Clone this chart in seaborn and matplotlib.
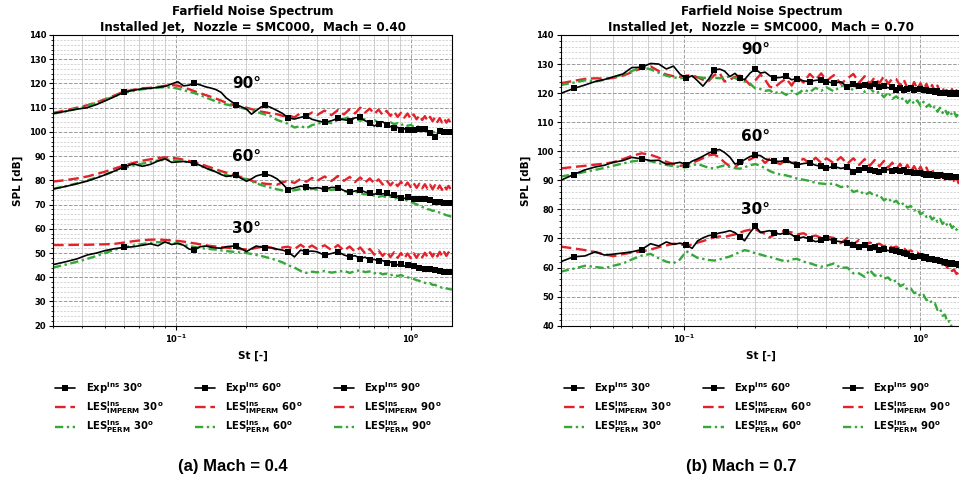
import numpy as np
import matplotlib
matplotlib.use("Agg")
import matplotlib.pyplot as plt
from matplotlib.ticker import MultipleLocator, NullFormatter, LogLocator
import seaborn as sns

# Strouhal number grid shared by all spectra
st = [0.030, 0.034, 0.038, 0.042, 0.046, 0.050, 0.055, 0.060,
      0.066, 0.072, 0.078, 0.084, 0.090, 0.096, 0.102, 0.108, 0.114, 0.120,
      0.127, 0.134, 0.141, 0.148, 0.156, 0.164, 0.172, 0.180,
      0.190, 0.200, 0.210, 0.220, 0.230, 0.240, 0.255, 0.270, 0.285, 0.300,
      0.320, 0.340, 0.360, 0.380, 0.400,
      0.43, 0.46, 0.49, 0.52, 0.55, 0.58, 0.61, 0.64, 0.67, 0.70, 0.73, 0.76,
      0.79, 0.82, 0.85, 0.88, 0.91, 0.94, 0.97, 1.00, 1.03, 1.06, 1.09, 1.12,
      1.15, 1.18, 1.21, 1.24, 1.27, 1.30, 1.33, 1.36, 1.39, 1.42, 1.45, 1.48, 1.51]

angles = ["30", "60", "90"]

# ---------------- Mach 0.4 ----------------
m04_exp_90 = [107.6, 108.5, 109.4, 110.0, 111.3, 112.8, 114.6, 116.3,
              117.2, 117.8, 118.0, 118.4, 118.8, 119.8, 120.7, 119.0, 119.3, 120.0,
              119.4, 118.6, 118.1, 117.5, 116.3, 114.0, 112.6, 111.2,
              110.4, 109.4, 107.3, 108.8, 110.2, 111.0, 110.0, 108.8, 107.6, 105.8,
              105.3, 106.0, 106.5, 105.2, 104.6,
              103.9, 104.6, 105.6, 105.0, 104.7, 105.8, 106.0, 104.6, 103.8, 102.4, 103.4, 104.2,
              103.0, 102.2, 101.6, 101.9, 100.8, 101.3, 100.6, 100.9, 100.7, 101.8, 101.2, 101.5,
              101.0, 100.2, 99.4, 98.6, 98.0, 99.2, 100.4, 99.6, 100.1, 99.3, 99.8, 99.6, 99.4]
m04_imp_90 = [107.8, 108.9, 110.0, 111.0, 112.2, 113.5, 115.1, 116.6,
              117.4, 118.0, 118.2, 118.6, 119.0, 119.3, 119.1, 118.3, 117.6, 116.8,
              116.0, 115.2, 114.5, 113.8, 112.9, 112.0, 111.3, 110.8,
              110.3, 110.0, 109.4, 108.9, 108.4, 108.1, 107.6, 107.3, 106.6, 106.9,
              106.0, 107.8, 106.6, 108.0, 107.0,
              108.8, 106.9, 109.0, 107.2, 109.4, 107.6, 110.0, 108.0, 109.6, 107.4, 109.2, 107.0,
              108.7, 106.6, 108.4, 106.2, 107.9, 105.9, 107.6, 105.5, 107.2, 105.2, 106.8, 104.9,
              106.5, 104.6, 106.2, 104.4, 106.0, 104.1, 105.7, 103.9, 105.4, 103.8, 105.1, 103.7, 104.2]
m04_perm_90 = [107.5, 108.5, 109.6, 110.8, 112.0, 113.2, 114.8, 116.1,
               116.9, 117.6, 118.0, 118.3, 118.5, 118.3, 117.9, 117.2, 116.6, 116.0,
               115.2, 114.2, 113.4, 112.6, 111.9, 111.3, 110.9, 110.4,
               109.9, 109.4, 108.8, 108.3, 107.7, 107.2, 106.4, 104.9, 104.2, 103.4,
               101.8, 102.4, 101.5, 102.8, 103.3,
               104.2, 103.6, 104.9, 105.4, 106.2, 105.3, 104.6, 105.2, 104.4, 104.9, 103.8, 104.3,
               103.5, 104.0, 103.2, 103.6, 102.8, 103.3, 102.5, 102.9, 102.2, 102.6, 101.8, 101.4,
               100.9, 100.2, 99.8, 99.4, 100.3, 100.9, 100.2, 100.7, 100.0, 100.6, 100.1, 100.3, 100.0]

m04_exp_60 = [76.4, 77.5, 78.6, 79.7, 81.0, 82.3, 83.9, 85.5,
              86.8, 85.8, 86.6, 88.0, 88.9, 87.4, 87.6, 87.8, 87.5, 87.1,
              86.2, 85.1, 84.3, 83.5, 82.4, 81.6, 81.9, 82.1,
              80.8, 79.6, 80.6, 81.8, 82.3, 82.6, 81.9, 80.6, 78.5, 76.2,
              76.9, 77.6, 77.3, 76.7, 77.0,
              76.4, 77.1, 77.0, 75.8, 75.0, 75.6, 76.0, 75.2, 74.8, 74.2, 75.0, 74.4,
              74.6, 73.8, 74.1, 73.4, 72.7, 72.5, 73.2, 73.0, 72.4, 72.8, 72.5, 71.9,
              72.3, 71.6, 72.0, 71.3, 71.0, 71.6, 70.9, 71.3, 70.8, 71.1, 70.6, 70.9, 70.7]
m04_imp_60 = [79.5, 80.1, 80.8, 81.6, 82.6, 83.6, 84.9, 86.1,
              87.2, 88.1, 88.7, 89.2, 89.5, 89.3, 89.0, 88.5, 88.0, 87.6,
              86.8, 86.0, 85.3, 84.6, 83.8, 83.2, 82.6, 82.1,
              81.3, 80.6, 79.9, 79.2, 78.9, 78.6, 78.4, 78.2, 79.2, 79.8,
              78.9, 80.6, 79.4, 81.0, 79.8,
              81.6, 79.7, 81.8, 79.8, 81.4, 79.3, 81.2, 79.1, 80.8, 78.7, 80.4, 78.3,
              80.0, 77.9, 79.7, 77.6, 79.4, 77.3, 79.1, 77.2, 78.9, 76.9, 78.6, 76.7,
              78.4, 76.5, 78.2, 76.3, 78.0, 76.2, 77.9, 76.1, 77.8, 76.3, 77.7, 76.4, 77.2]
m04_perm_60 = [76.5, 77.6, 78.8, 80.0, 81.2, 82.4, 83.8, 85.0,
               86.1, 86.9, 87.6, 88.2, 88.6, 88.4, 88.1, 87.8, 87.4, 87.0,
               86.0, 85.0, 84.3, 83.6, 82.8, 82.2, 81.7, 81.3,
               80.9, 80.5, 79.6, 78.8, 78.1, 77.6, 76.9, 76.3, 75.8, 75.5,
               75.9, 76.4, 76.0, 76.6, 76.2,
               76.7, 76.0, 76.4, 75.6, 75.0, 75.4, 74.6, 74.2, 74.6, 73.6, 73.2, 73.6,
               72.9, 73.3, 72.4, 72.8, 72.0, 72.3, 71.5, 71.0, 70.6, 70.1, 69.7, 69.0,
               68.7, 68.1, 67.9, 67.4, 67.6, 66.9, 66.7, 66.2, 66.0, 65.6, 65.4, 65.1, 65.0]

m04_exp_30 = [45.2, 46.4, 47.6, 49.2, 50.0, 51.0, 51.8, 52.3,
              52.6, 53.2, 53.8, 53.0, 54.6, 53.5, 54.0, 53.2, 51.6, 51.3,
              52.6, 52.9, 52.4, 52.1, 52.0, 52.6, 52.8, 52.9,
              51.8, 50.6, 51.8, 52.9, 52.5, 52.2, 52.2, 51.6, 51.2, 50.5,
              48.4, 51.2, 50.6, 50.8, 50.5,
              49.1, 49.8, 50.5, 49.2, 48.4, 48.9, 47.7, 48.3, 47.0, 47.4, 46.6, 46.9,
              46.0, 46.3, 45.6, 45.1, 45.3, 44.6, 44.9, 44.2, 44.5, 43.8, 44.0, 43.4,
              43.6, 42.9, 43.2, 42.6, 42.8, 42.2, 42.5, 42.0, 42.3, 41.8, 42.1, 41.9, 41.8]
m04_imp_30 = [53.3, 53.3, 53.4, 53.4, 53.5, 53.6, 53.8, 54.3,
              54.9, 55.3, 55.5, 55.6, 55.4, 55.2, 55.0, 54.7, 54.3, 54.0,
              53.6, 53.2, 52.9, 52.7, 52.4, 52.2, 52.0, 51.8,
              51.6, 51.5, 51.7, 52.1, 52.5, 52.8, 52.2, 51.4, 52.3, 52.6,
              51.6, 53.4, 51.8, 53.1, 51.7,
              53.2, 51.2, 53.3, 51.0, 52.7, 50.5, 52.3, 49.9, 51.7, 49.3, 51.1, 48.8,
              50.6, 48.3, 50.3, 48.0, 50.0, 47.8, 49.8, 47.9, 49.9, 48.0, 50.0, 48.2,
              50.1, 48.3, 50.3, 48.5, 50.4, 48.6, 50.5, 48.7, 50.4, 48.8, 50.3, 48.9, 49.6]
m04_perm_30 = [44.0, 45.2, 46.4, 47.6, 48.8, 50.0, 51.4, 52.3,
               53.1, 53.7, 54.2, 54.5, 54.4, 54.2, 53.9, 53.4, 52.9, 52.5,
               52.1, 51.8, 51.6, 51.4, 51.1, 50.8, 50.6, 50.4,
               50.2, 50.0, 49.6, 49.2, 48.8, 48.4, 47.7, 47.0, 46.1, 45.0,
               44.0, 42.6, 41.8, 42.3, 42.0,
               42.6, 41.9, 42.3, 42.7, 41.8, 42.5, 42.9, 42.1, 42.4, 41.6, 42.0, 41.2,
               41.5, 40.8, 41.2, 40.5, 40.9, 40.3, 40.0, 39.6, 39.3, 38.8, 38.5, 38.0,
               37.7, 37.3, 37.6, 36.8, 36.9, 36.3, 36.0, 35.7, 35.9, 35.4, 35.2, 35.0, 34.9]

# ---------------- Mach 0.7 ----------------
m07_exp_90 = [119.9, 121.6, 122.8, 124.0, 124.7, 125.6, 126.6, 128.8,
              128.9, 130.2, 130.0, 128.3, 129.3, 126.5, 125.1, 126.0, 124.2, 122.4,
              124.9, 127.9, 128.3, 127.6, 125.7, 126.8, 125.2, 124.6,
              126.9, 128.3, 126.9, 127.2, 126.0, 125.2, 125.4, 125.8, 124.6, 125.0,
              124.2, 124.0, 124.4, 124.6, 124.0,
              123.4, 123.9, 122.2, 123.0, 122.6, 122.9, 122.3, 123.1, 122.2, 122.6, 121.8, 122.1,
              121.2, 121.7, 121.0, 121.5, 121.6, 121.2, 120.9, 121.4, 121.0, 121.2, 120.6, 120.9,
              120.3, 120.7, 120.1, 120.4, 119.9, 120.2, 119.8, 120.1, 119.9, 119.7, 120.0, 119.6, 119.8]
m07_imp_90 = [123.4, 124.2, 124.9, 125.1, 125.0, 125.2, 126.0, 127.2,
              128.6, 129.2, 127.6, 126.4, 125.8, 125.6, 126.0, 126.2, 125.4, 124.6,
              124.2, 126.2, 127.0, 124.0, 124.6, 125.6, 126.0, 124.8,
              122.8, 124.4, 126.4, 124.6, 122.2, 121.8, 123.6, 125.0, 122.6, 125.6,
              123.6, 126.6, 124.6, 126.8, 124.2,
              126.2, 123.2, 125.0, 126.6, 123.6, 125.8, 123.2, 125.4, 123.4, 125.8, 123.2, 125.0,
              124.8, 122.6, 124.6, 121.8, 121.0, 123.8, 121.4, 123.4, 121.2, 123.2, 120.8, 122.8,
              120.4, 122.6, 120.2, 122.0, 119.8, 121.8, 119.6, 121.4, 119.2, 121.0, 118.8, 120.4, 118.4]
m07_perm_90 = [122.8, 123.6, 124.4, 124.0, 124.6, 125.4, 126.4, 127.6,
               128.9, 128.2, 127.0, 126.0, 125.4, 125.1, 125.4, 125.7, 125.5, 125.3,
               125.0, 125.3, 125.1, 125.4, 125.7, 125.2, 124.4, 124.0,
               123.2, 121.6, 121.4, 120.8, 121.0, 119.9, 120.6, 119.4, 120.8, 119.6,
               121.2, 120.4, 121.8, 120.8, 122.0,
               120.6, 122.4, 122.8, 120.9, 122.6, 120.4, 121.9, 120.0, 120.4, 118.6, 120.3, 118.0,
               118.9, 117.6, 118.4, 116.6, 118.0, 116.3, 117.5, 115.6, 117.0, 115.3, 116.1, 114.5,
               115.4, 113.6, 115.0, 113.2, 114.4, 112.7, 114.0, 112.4, 113.4, 111.9, 113.2, 112.0, 112.4]

m07_exp_60 = [90.0, 92.0, 93.6, 94.6, 95.2, 96.2, 96.8, 97.9,
              97.4, 96.8, 96.9, 95.6, 95.8, 96.2, 95.3, 96.6, 97.4, 98.3,
              99.4, 100.2, 100.6, 99.6, 98.0, 95.6, 96.2, 97.1,
              98.2, 98.7, 98.5, 97.4, 97.0, 96.6, 96.5, 97.0, 96.0, 95.3,
              95.8, 96.0, 95.2, 94.8, 94.2,
              94.8, 94.1, 94.5, 93.0, 93.7, 94.1, 93.6, 93.2, 93.0, 93.4, 93.7, 93.3,
              93.6, 93.1, 93.4, 92.8, 93.0, 92.6, 92.9, 92.4, 92.2, 91.8, 92.1, 91.7,
              91.9, 91.5, 91.7, 91.3, 91.4, 91.1, 91.4, 91.2, 91.3, 91.0, 91.3, 91.1, 91.2]
m07_imp_60 = [94.1, 94.6, 95.0, 95.4, 95.8, 96.2, 97.3, 98.4,
              99.3, 98.8, 97.8, 96.4, 95.6, 95.0, 95.2, 96.0, 96.8, 97.6,
              98.6, 98.9, 97.8, 96.2, 94.8, 94.6, 95.8, 96.4,
              97.2, 98.1, 97.6, 96.0, 97.4, 96.4, 95.6, 97.0, 96.0, 96.3,
              97.4, 95.8, 97.8, 96.0, 97.6,
              95.9, 98.0, 95.7, 97.6, 95.3, 97.3, 95.0, 97.0, 94.8, 96.7, 94.4, 96.1,
              93.8, 95.7, 93.3, 95.3, 93.0, 94.9, 92.8, 94.7, 92.6, 94.4, 92.0, 93.8,
              91.4, 93.1, 90.8, 92.6, 90.3, 92.1, 89.8, 91.5, 89.5, 91.2, 89.0, 90.5, 88.8]
m07_perm_60 = [91.3, 92.1, 92.9, 93.6, 94.3, 95.0, 95.8, 96.5,
               96.9, 96.6, 95.9, 95.3, 94.9, 94.6, 94.5, 95.2, 95.6, 95.0,
               94.3, 94.1, 94.7, 95.1, 94.6, 94.2, 94.0, 94.5,
               95.2, 95.6, 95.0, 94.2, 93.2, 92.6, 92.0, 91.7, 91.2, 90.6,
               90.2, 89.8, 89.1, 88.9, 88.7,
               88.9, 87.7, 88.0, 86.0, 86.6, 85.0, 85.9, 84.6, 85.0, 83.1, 84.0, 82.2,
               83.0, 81.3, 82.2, 80.6, 81.2, 79.6, 80.2, 78.3, 79.0, 77.4, 78.1, 76.5,
               77.4, 75.7, 76.7, 75.0, 75.9, 74.4, 75.2, 73.6, 74.4, 73.0, 73.8, 72.6, 73.0]

m07_exp_30 = [62.0, 63.7, 64.0, 65.4, 64.3, 64.6, 65.0, 65.4,
              66.2, 68.2, 67.4, 68.8, 68.0, 68.4, 67.8, 66.6, 69.2, 70.2,
              71.0, 71.3, 71.9, 72.2, 72.7, 72.0, 70.6, 69.2,
              72.1, 74.3, 72.1, 72.4, 72.7, 71.8, 71.5, 72.1, 71.3, 70.0,
              70.5, 69.8, 68.9, 69.4, 70.0,
              69.2, 68.9, 68.4, 67.6, 67.2, 67.8, 66.6, 67.0, 66.2, 66.5, 65.8, 66.1,
              65.6, 65.2, 65.0, 64.6, 64.0, 63.8, 63.6, 64.1, 63.2, 63.5, 63.0, 62.8,
              62.5, 62.6, 62.1, 61.8, 62.0, 61.5, 61.3, 61.7, 61.1, 61.2, 60.8, 60.9, 60.6]
m07_imp_30 = [67.2, 66.6, 66.0, 65.3, 64.6, 63.9, 64.6, 65.2,
              65.5, 66.2, 67.0, 67.6, 68.2, 68.0, 67.6, 67.9, 68.6, 69.1,
              69.8, 70.4, 70.7, 70.5, 71.0, 71.4, 72.0, 72.6,
              73.0, 73.2, 72.2, 71.6, 70.4, 71.2, 72.6, 72.4, 72.1, 71.4,
              71.8, 70.6, 71.0, 70.2, 70.6,
              70.2, 68.4, 70.2, 68.0, 69.5, 67.7, 68.6, 67.9, 68.2, 67.3, 67.8, 66.8,
              67.2, 66.3, 66.6, 65.6, 65.9, 65.0, 65.2, 64.3, 64.6, 63.6, 63.8, 62.8,
              63.2, 62.0, 62.2, 60.9, 61.2, 59.9, 60.2, 58.8, 59.2, 57.8, 58.2, 57.0, 57.2]
m07_perm_30 = [58.6, 59.6, 60.6, 60.2, 59.8, 60.6, 61.4, 62.8,
               64.1, 64.7, 63.2, 62.0, 61.5, 62.8, 65.6, 64.4, 63.3, 63.0,
               62.6, 62.4, 62.8, 63.3, 63.8, 64.6, 65.3, 66.0,
               65.6, 64.9, 64.5, 64.0, 63.7, 63.2, 62.6, 62.0, 62.8, 63.0,
               62.0, 61.5, 60.8, 60.3, 60.6,
               61.4, 59.9, 60.0, 58.0, 58.0, 56.8, 59.2, 57.2, 57.6, 56.2, 56.6, 55.0,
               55.6, 53.6, 54.2, 52.4, 52.8, 51.2, 51.6, 50.0, 50.6, 48.8, 49.2, 47.6,
               47.8, 45.4, 45.9, 43.4, 43.8, 41.2, 41.6, 39.2, 39.6, 37.4, 37.6, 35.6, 35.8]

panels = [
    dict(mach="0.40", caption="(a) Mach = 0.4", ylim=(20, 140), mark_step=0.06,
         exp={"30": m04_exp_30, "60": m04_exp_60, "90": m04_exp_90},
         imp={"30": m04_imp_30, "60": m04_imp_60, "90": m04_imp_90},
         perm={"30": m04_perm_30, "60": m04_perm_60, "90": m04_perm_90},
         angle_y={"30": 60, "60": 90, "90": 120}),
    dict(mach="0.70", caption="(b) Mach = 0.7", ylim=(40, 140), mark_step=0.034,
         exp={"30": m07_exp_30, "60": m07_exp_60, "90": m07_exp_90},
         imp={"30": m07_imp_30, "60": m07_imp_60, "90": m07_imp_90},
         perm={"30": m07_perm_30, "60": m07_perm_60, "90": m07_perm_90},
         angle_y={"30": 80, "60": 105, "90": 135}),
]

sns.set_style("ticks")
plt.rcParams["font.family"] = ["DejaVu Sans"]
plt.rcParams["font.weight"] = "bold"
plt.rcParams["mathtext.fontset"] = "dejavusans"
plt.rcParams["mathtext.default"] = "bf"
for key in ["text.color", "axes.labelcolor", "xtick.color", "ytick.color", "axes.edgecolor"]:
    plt.rcParams[key] = "black"

RED = "#e3232c"
GREEN = "#36a83a"

fig = plt.figure(figsize=(9.59, 4.88), dpi=100)
ax_pos = [[0.0553, 0.3326, 0.416, 0.5957], [0.5847, 0.3326, 0.4185, 0.5957]]
caption_x = [233 / 959, 741 / 959]

st_arr = np.array(st)

for p, pos, cx in zip(panels, ax_pos, caption_x):
    ax = fig.add_axes(pos)
    targets = np.arange(p["mark_step"], 1.5, p["mark_step"])
    mark_idx = sorted(set(int(np.argmin(np.abs(st_arr - t))) for t in targets))

    handles, labels = [], []
    for ang in angles:
        sns.lineplot(x=st, y=p["exp"][ang], ax=ax, color="black", lw=1.2,
                     marker="s", markersize=4.2, markeredgewidth=0,
                     markevery=mark_idx, sort=False, zorder=3)
        h_exp = ax.lines[-1]
        sns.lineplot(x=st, y=p["imp"][ang], ax=ax, color=RED, lw=1.7,
                     sort=False, zorder=2)
        h_imp = ax.lines[-1]
        h_imp.set_linestyle((0, (4.5, 2.0)))
        sns.lineplot(x=st, y=p["perm"][ang], ax=ax, color=GREEN, lw=1.7,
                     sort=False, zorder=2)
        h_perm = ax.lines[-1]
        h_perm.set_linestyle((0, (3.5, 1.5, 1.0, 1.5)))
        handles += [h_exp, h_imp, h_perm]
        labels += [r"Exp$^{Ins}$ " + ang + r"$^{o}$",
                   r"LES$^{Ins}_{IMPERM}$ " + ang + r"$^{o}$",
                   r"LES$^{Ins}_{PERM}$ " + ang + r"$^{o}$"]
        ax.text(0.2, p["angle_y"][ang], ang + "°", fontsize=11, fontweight="bold",
                color="black", ha="center", va="center", zorder=5)

    ax.set_xscale("log")
    ax.set_xlim(0.03, 1.5)
    ax.set_ylim(*p["ylim"])
    ax.yaxis.set_major_locator(MultipleLocator(10))
    ax.yaxis.set_minor_locator(MultipleLocator(2))
    ax.xaxis.set_minor_locator(LogLocator(base=10, subs=np.arange(2, 10)))
    ax.xaxis.set_minor_formatter(NullFormatter())
    ax.set_xticks([0.1, 1.0])
    ax.set_xticklabels([r"$\mathbf{10^{-1}}$", r"$\mathbf{10^{0}}$"])
    ax.tick_params(axis="both", which="major", labelsize=6, length=3, width=0.8, pad=2)
    ax.tick_params(axis="both", which="minor", length=1.5, width=0.6)
    for lab in ax.get_yticklabels():
        lab.set_fontweight("bold")

    ax.grid(which="major", axis="both", color="#9a9a9a", ls="--", lw=0.7)
    ax.grid(which="minor", axis="y", color="#c4c4c4", ls=(0, (3, 2)), lw=0.5)
    ax.grid(which="minor", axis="x", color="#c8c8c8", ls="-", lw=0.6)
    for s in ax.spines.values():
        s.set_color("black")
        s.set_linewidth(0.8)

    ax.set_xlabel("St [-]", fontsize=7.5, fontweight="bold", labelpad=4)
    ax.set_ylabel("SPL [dB]", fontsize=7.5, fontweight="bold", labelpad=4)
    ax.set_title("Farfield Noise Spectrum\nInstalled Jet,  Nozzle = SMC000,  Mach = " + p["mach"],
                 fontsize=8.6, fontweight="bold", pad=3, linespacing=1.25)

    ax.legend(handles, labels, ncol=3, loc="upper center",
              bbox_to_anchor=(0.49, -0.155), frameon=False,
              prop={"size": 7.3, "weight": "bold"}, handlelength=2.0,
              handletextpad=1.0, columnspacing=3.1, labelspacing=0.3)

    fig.text(cx, 1 - 467 / 488, p["caption"], ha="center", va="center",
             fontsize=12, fontweight="bold", family=["Liberation Sans", "DejaVu Sans"])

fig.savefig("out.png", dpi=100, facecolor="white")
